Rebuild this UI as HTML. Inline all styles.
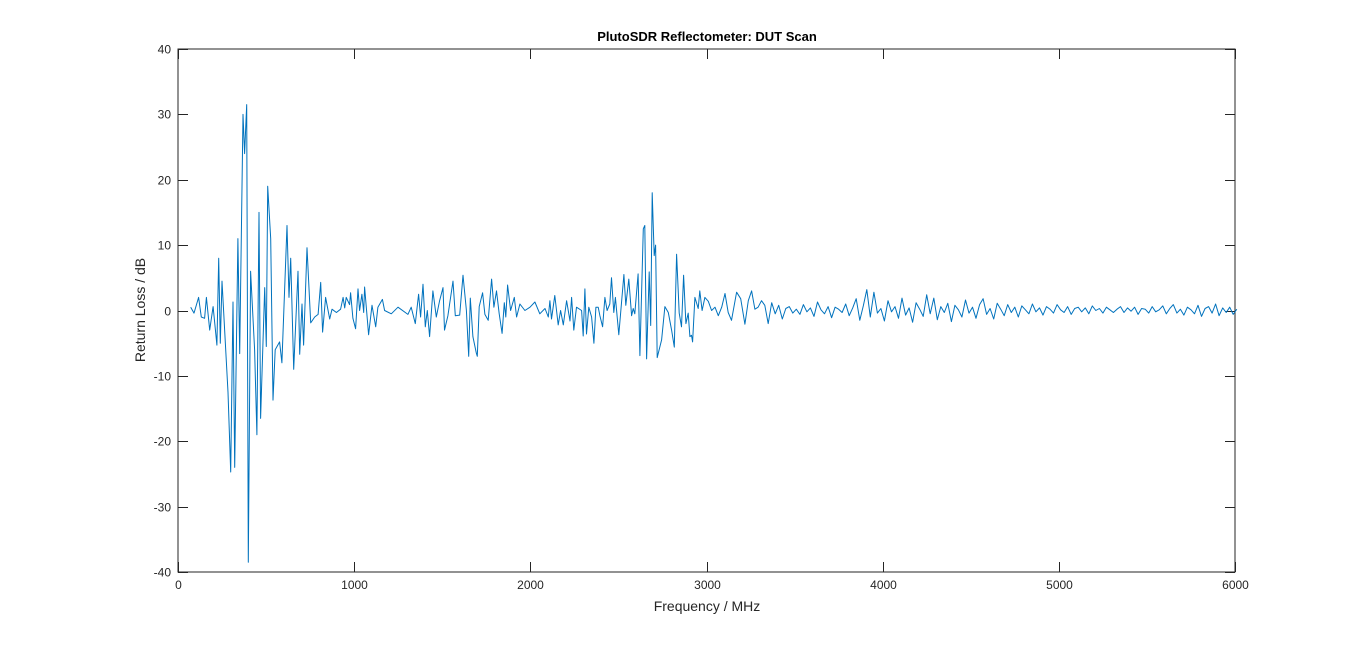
<!DOCTYPE html>
<html><head><meta charset="utf-8"><style>
body{margin:0;background:#fff;}
svg text{font-family:"Liberation Sans",Arial,sans-serif;fill:#262626;}
</style></head><body>
<svg id="chart" width="1366" height="643" xmlns="http://www.w3.org/2000/svg">
<rect width="1366" height="643" fill="#fff"/>
<g id="axes"></g>
<path id="series" fill="none" stroke="#0072BD" stroke-width="1" stroke-linejoin="round"/>
<text x="707" y="41" text-anchor="middle" font-size="13" font-weight="bold" style="fill:#000">PlutoSDR Reflectometer: DUT Scan</text>
<text x="707" y="611" text-anchor="middle" font-size="14">Frequency / MHz</text>
<text transform="translate(145,310) rotate(-90)" text-anchor="middle" font-size="14">Return Loss / dB</text>
</svg>
<script>
const xTicks=[0,1000,2000,3000,4000,5000,6000];
const yTicks=[-40,-30,-20,-10,0,10,20,30,40];
const freqs=[72,91,117,132,151,161,180,199,221,231,240,250,284,299,312,322,340,350,369,378,390,399,412,435,448,460,469,492,501,509,526,539,552,577,590,619,630,640,657,681,691,704,713,732,753,776,795,810,821,838,861,874,899,923,937,946,955,974,980,993,1008,1022,1031,1044,1054,1059,1082,1101,1122,1135,1160,1173,1211,1249,1305,1324,1347,1366,1377,1391,1404,1415,1428,1447,1466,1485,1504,1513,1532,1561,1574,1599,1618,1637,1650,1659,1674,1693,1699,1710,1729,1742,1761,1780,1793,1808,1823,1840,1852,1861,1871,1888,1909,1922,1941,1969,1998,2026,2054,2083,2102,2111,2120,2139,2158,2172,2187,2206,2225,2234,2247,2262,2291,2300,2310,2319,2332,2348,2361,2372,2385,2395,2410,2423,2436,2451,2461,2474,2483,2502,2531,2542,2559,2575,2584,2593,2612,2622,2641,2650,2660,2675,2683,2692,2703,2711,2720,2745,2764,2783,2802,2817,2830,2845,2858,2870,2883,2896,2906,2915,2921,2934,2953,2962,2975,2991,3010,3029,3048,3067,3086,3105,3123,3142,3171,3194,3218,3237,3256,3275,3293,3312,3331,3350];
const values=[0.5,-0.4,2,-1,-1.2,2,-3,0.6,-5.3,8,-5,4.5,-12.5,-24.7,1.3,-24,11,-6.6,30,24,31.5,-38.5,6,-6,-19,15,-16.5,3.5,-5.5,19,11,-13.7,-6,-4.8,-8,13,2,8,-9,6,-6.7,1,-5.3,9.6,-1.9,-1,-0.6,4.3,-3.3,2,-1.3,0.2,-0.3,0.2,2,0.4,2,0.9,2.7,-1.2,-2.8,3.3,0,2.5,-0.3,3.6,-3.7,0.8,-2.5,0.5,1.7,0,-0.5,0.5,-0.6,0.5,-2,2.5,-1,4,-2.5,0,-4,3,-1,1.5,3.5,-3,-0.8,4.5,-0.8,-0.7,5.4,0,-7,1.9,-4,-6.5,-7,0.6,2.7,-0.6,-1.5,4.8,0.5,3,-0.5,-3.5,1.2,-1,3.9,0,2,-1,1,0,0.5,1.3,-0.5,0.3,-1,1.5,-1.3,2.3,-2.2,0,-2.2,1.5,-1.6,2,-3,0.5,0,-3.9,3.3,-3.6,0.5,-1,-5,0.5,0.5,-0.8,-2.5,2,0,1,5,-0.3,2,-3.7,5.5,0.8,4.8,-0.8,0.3,-0.5,5.6,-6.9,12.5,13,-7.4,5.9,-2.3,18,8.4,10,-7.2,-4.5,0.6,-0.3,-3,-5.6,8.6,-0.4,-2.5,5.4,-2,-0.4,-4,-3.8,-4.8,2,0.3,3,0,2,1.4,0,0.5,-0.8,0.5,2.6,-0.3,-1.5,2.8,1.8,-2.1,1.5,3,0.2,0.5,1.5,0.8,-2];
const tailStart=3370, tailStep=20;
const tailValues=[1.2,-0.5,0.8,-1.3,0.3,0.6,-0.4,0.2,-0.6,0.9,-0.2,0.4,-0.9,1.3,0.1,-0.5,0.6,-1.1,0.5,0.2,
-0.3,1.0,-0.8,0.4,1.8,-1.5,0.7,3.2,-1.0,2.8,-0.4,0.3,-1.6,1.5,-0.2,0.6,-1.2,1.9,-0.7,0.4,
-1.8,1.2,0.2,-0.9,2.4,-0.5,1.9,-1.4,0.6,-0.3,1.1,-1.7,0.8,0.1,-1.0,1.6,-0.4,0.5,-1.2,0.9,
1.8,-0.6,0.3,-1.3,1.1,0.2,-0.8,0.9,-0.3,0.5,-1.0,0.7,0.1,-0.5,1.0,-0.2,0.4,-0.7,0.6,0.2,
-0.4,0.9,0.1,-0.3,0.6,-0.6,0.3,0.5,-0.2,0.4,-0.5,0.7,0.0,0.3,-0.4,0.5,0.1,-0.3,0.2,0.6,
-0.3,0.4,-0.1,0.5,-0.6,0.3,0.2,-0.4,0.6,-0.2,0.1,0.7,-0.5,0.3,0.9,-0.4,0.2,-0.7,0.5,0.1,
-0.5,0.8,-0.9,0.3,0.6,-0.4,1.0,-0.8,0.4,-0.3,0.5,-0.6,0.2];

const L=178,R=1235,T=49,B=572;
const xs=v=>L+(v-0)/6000*(R-L);
const ys=v=>B-(v+40)/80*(B-T);
const NS="http://www.w3.org/2000/svg";
const ax=document.getElementById('axes');
function mk(tag,attrs){const e=document.createElementNS(NS,tag);for(const k in attrs)e.setAttribute(k,attrs[k]);ax.appendChild(e);return e;}
const box=mk('rect',{x:L,y:T,width:R-L,height:B-T,fill:'none',stroke:'#262626','stroke-width':1});


xTicks.forEach(t=>{const x=Math.round(xs(t))+0.5;
 const l=mk('path',{d:`M${x},${B}V${B-10}M${x},${T}V${T+10}`,stroke:'#262626'});
 
 
 const tx=mk('text',{x:x,y:B+17,'text-anchor':'middle','font-size':12});tx.textContent=t;
 
 
});
yTicks.forEach(t=>{const y=Math.round(ys(t))+0.5;
 const l=mk('path',{d:`M${L},${y}H${L+10}M${R},${y}H${R-10}`,stroke:'#262626'});
 
 
 const tx=mk('text',{x:L-7,y:y+4,'text-anchor':'end','font-size':12});tx.textContent=t;
 
 
});
let pts=freqs.map((f,i)=>[f,values[i]]);
tailValues.forEach((v,i)=>pts.push([tailStart+i*tailStep,v]));
document.getElementById('series').setAttribute('d',pts.map((p,i)=>(i?'L':'M')+xs(p[0]).toFixed(1)+','+ys(p[1]).toFixed(1)).join(''));
</script>
</body></html>
